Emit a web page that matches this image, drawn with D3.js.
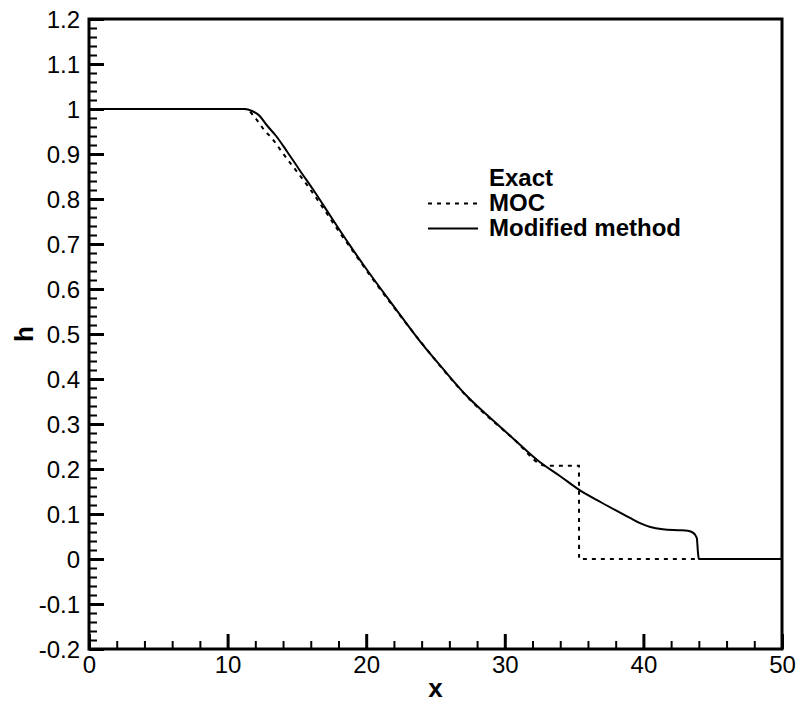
<!DOCTYPE html>
<html lang="en">
<head>
  <meta charset="UTF-8" />
  <title>h vs x</title>
  <style>
    body { margin:0; background:#fff; }
    svg { display:block; font-family:"Liberation Sans", Arial, sans-serif; }
  </style>
</head>
<body>
  <svg id="chart" width="798" height="709"></svg>

  <script src="https://d3js.org/d3.v7.min.js"></script>
  <script>
  // values
  const xTicks = [0, 10, 20, 30, 40, 50];
  const yTicks = [-0.2, -0.1, 0, 0.1, 0.2, 0.3, 0.4, 0.5, 0.6, 0.7, 0.8, 0.9, 1, 1.1, 1.2];
  const yTickLabels = ["-0.2","-0.1","0","0.1","0.2","0.3","0.4","0.5","0.6","0.7","0.8","0.9","1","1.1","1.2"];
  const legendNames = ["Exact", "MOC", "Modified method"];

  // modified method (solid)
  const modX = [0, 11.2, 11.8, 12.3, 12.8, 13.5, 14.3, 15.2, 16.3, 17.4, 18.8, 20, 22.1, 23.9, 25.5,
                27.3, 29, 30.6, 32.5, 34, 35.4, 37, 39, 39.8, 40.5, 41.4, 42.5, 43.2, 43.6, 43.85, 43.95, 44.0, 50];
  const modH = [1, 1, 0.995, 0.985, 0.965, 0.94, 0.905, 0.864, 0.815, 0.763, 0.698, 0.645, 0.557, 0.483, 0.424,
                0.361, 0.312, 0.268, 0.216, 0.184, 0.153, 0.125, 0.092, 0.079, 0.071, 0.066, 0.064, 0.063, 0.058, 0.047, 0.01, 0, 0];

  // MOC (dotted)
  const mocX = [0, 11.3, 12, 12.6, 13.3, 14.0, 15.0, 15.9, 17, 18, 19, 20, 22.1, 24, 27.3, 30.6, 33.0, 35.35, 35.36, 50];
  const mocH = [1, 1, 0.98, 0.955, 0.931, 0.901, 0.861, 0.824, 0.775, 0.729, 0.686, 0.642, 0.555, 0.48, 0.36, 0.268, 0.207, 0.207, 0, 0];

  const svg = d3.select("#chart");
  const L = 89, R = 782, T = 19, B = 649;

  const x = d3.scaleLinear().domain([0, 50]).range([L, R]);
  const y = d3.scaleLinear().domain([-0.2, 1.2]).range([B, T]);

  const minorX = d3.range(0, 50.001, 2).filter(v => v % 10 !== 0);
  const minorY = d3.range(-20, 121, 2).filter(v => v % 10 !== 0).map(v => v / 100);

  // minor ticks
  svg.append("g").attr("transform", `translate(0,${B})`)
     .call(d3.axisBottom(x).tickValues(minorX).tickSize(-8).tickFormat(""))
     .call(g => g.select(".domain").remove())
     .selectAll("line").attr("stroke", "#000").attr("stroke-width", 2);
  svg.append("g").attr("transform", `translate(${L},0)`)
     .call(d3.axisLeft(y).tickValues(minorY).tickSize(-8).tickFormat(""))
     .call(g => g.select(".domain").remove())
     .selectAll("line").attr("stroke", "#000").attr("stroke-width", 2);

  // major ticks + labels
  const gx = svg.append("g").attr("transform", `translate(0,${B})`)
     .call(d3.axisBottom(x).tickValues(xTicks).tickSize(-15).tickPadding(24).tickFormat(d3.format("d")));
  gx.select(".domain").remove();
  gx.selectAll("line").attr("stroke", "#000").attr("stroke-width", 3);
  gx.selectAll("text").attr("font-size", 24).attr("fill", "#000")
    .attr("font-family", "'Liberation Sans', Arial, sans-serif").attr("dy", 0);

  const gy = svg.append("g").attr("transform", `translate(${L},0)`)
     .call(d3.axisLeft(y).tickValues(yTicks).tickSize(-15).tickPadding(9)
           .tickFormat((d, i) => yTickLabels[i]));
  gy.select(".domain").remove();
  gy.selectAll("line").attr("stroke", "#000").attr("stroke-width", 3);
  gy.selectAll("text").attr("font-size", 24).attr("fill", "#000")
    .attr("font-family", "'Liberation Sans', Arial, sans-serif").attr("dy", "0.36em");

  // curves
  const line = d3.line().x(d => x(d[0])).y(d => y(d[1])).curve(d3.curveMonotoneX);
  svg.append("path").datum(mocX.map((v, i) => [v, mocH[i]]))
     .attr("d", line).attr("fill", "none").attr("stroke", "#000")
     .attr("stroke-width", 2).attr("stroke-dasharray", "4,5");
  svg.append("path").datum(modX.map((v, i) => [v, modH[i]]))
     .attr("d", line).attr("fill", "none").attr("stroke", "#000")
     .attr("stroke-width", 2);

  // frame
  svg.append("rect").attr("x", L).attr("y", T).attr("width", R - L).attr("height", B - T)
     .attr("fill", "none").attr("stroke", "#000").attr("stroke-width", 3);

  // axis titles
  svg.append("text").attr("x", (L + R) / 2).attr("y", 697).attr("text-anchor", "middle")
     .attr("font-size", 26).attr("font-weight", "bold").text("x");
  svg.append("text").attr("transform", `translate(33,${(T + B) / 2}) rotate(-90)`)
     .attr("text-anchor", "middle").attr("font-size", 26).attr("font-weight", "bold").text("h");

  // legend
  const lg = svg.append("g");
  const styles = [null, "4,5", null];
  legendNames.forEach((name, i) => {
    const base = 186 + i * 25;
    lg.append("text").attr("x", 489).attr("y", base).attr("font-size", 24)
      .attr("font-weight", "bold").text(name);
    if (i > 0) {
      lg.append("line").attr("x1", 428).attr("x2", 478)
        .attr("y1", base - 7.5).attr("y2", base - 7.5)
        .attr("stroke", "#000").attr("stroke-width", 2)
        .attr("stroke-dasharray", styles[i]);
    }
  });
  </script>
</body>
</html>
